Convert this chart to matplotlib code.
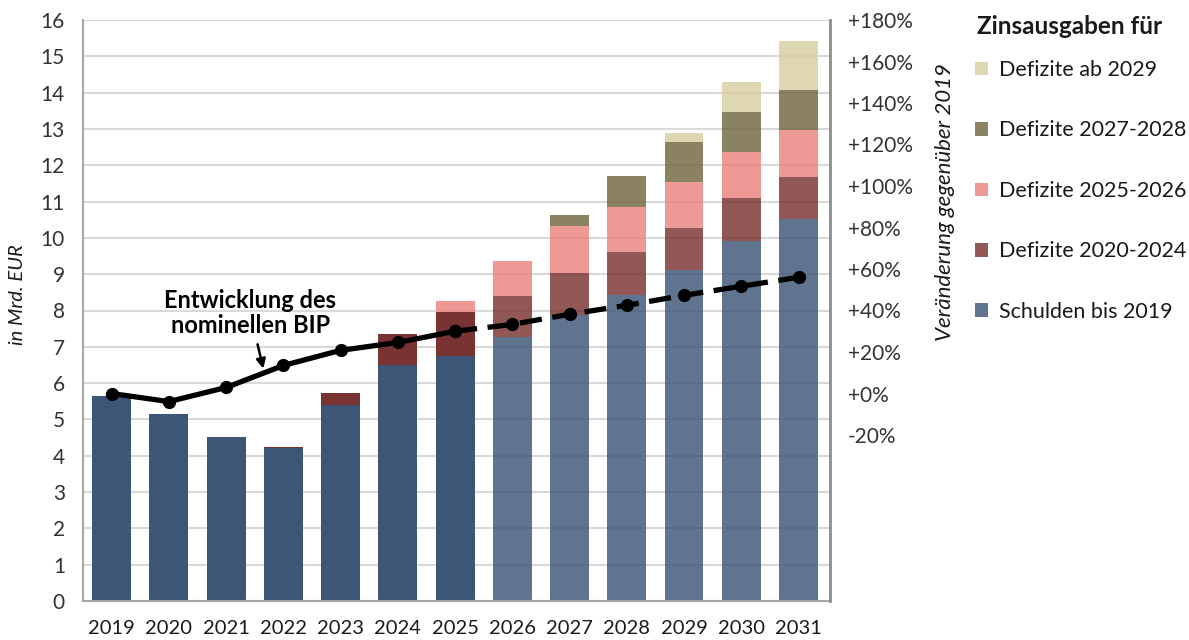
import numpy as np
import matplotlib.pyplot as plt
from matplotlib.patches import Patch

plt.rcParams['font.family'] = ['Lato', 'DejaVu Sans']

# data
years = ['2019', '2020', '2021', '2022', '2023', '2024', '2025',
         '2026', '2027', '2028', '2029', '2030', '2031']
schulden_2019 = [5.64, 5.14, 4.52, 4.21, 5.39, 6.49, 6.76, 7.27, 7.88, 8.42, 9.12, 9.92, 10.52]
def_2020_2024 = [0, 0, 0, 0.04, 0.34, 0.86, 1.19, 1.13, 1.15, 1.20, 1.14, 1.17, 1.17]
def_2025_2026 = [0, 0, 0, 0, 0, 0, 0.30, 0.96, 1.31, 1.24, 1.29, 1.28, 1.28]
def_2027_2028 = [0, 0, 0, 0, 0, 0, 0, 0, 0.28, 0.84, 1.10, 1.10, 1.10]
def_ab_2029 = [0, 0, 0, 0, 0, 0, 0, 0, 0, 0, 0.25, 0.81, 1.34]
bip_change = [0, -3.9, 2.9, 13.5, 20.8, 24.6, 30.0, 33.3, 38.2, 42.5, 47.3, 51.7, 56.0]
last_actual = 6  # 2025: solid line up to here, bars opaque

series = [
    ('Schulden bis 2019', schulden_2019, '#3d5678'),
    ('Defizite 2020-2024', def_2020_2024, '#7a3333'),
    ('Defizite 2025-2026', def_2025_2026, '#ea847f'),
    ('Defizite 2027-2028', def_2027_2028, '#716740'),
    ('Defizite ab 2029', def_ab_2029, '#d9cfa1'),
]
fade = 0.82

fig = plt.figure(figsize=(11.89, 6.4), dpi=100)
ax = fig.add_axes([83 / 1189, 1 - 601 / 640, (830 - 83) / 1189, (601 - 20) / 640])

x = np.arange(len(years))
bottom = np.zeros(len(years))
handles = []
for i, (name, vals, col) in enumerate(series):
    vals = np.array(vals)
    for j in range(len(years)):
        if vals[j] <= 0:
            continue
        a = 1.0 if (j <= last_actual and i < 2) else fade
        ax.bar(x[j], vals[j], bottom=bottom[j], width=0.68, color=col, alpha=a,
               linewidth=0, zorder=2)
    bottom += vals
    handles.append(Patch(facecolor=col, alpha=fade, label=name))

ax.set_xlim(-0.5, 12.55)
ax.set_ylim(0, 16)
ax.set_yticks(range(0, 17))
ax.set_xticks(x)
ax.set_xticklabels(years)
ax.grid(axis='y', color='#d9d9d9', lw=1.5, zorder=0)
ax.set_axisbelow(True)
ax.tick_params(axis='y', length=0, pad=13, labelsize=15, colors='#333333')
ax.tick_params(axis='x', length=0, pad=14, labelsize=14.5, colors='#1a1a1a')
for s in ['top', 'right']:
    ax.spines[s].set_visible(False)
ax.spines['left'].set_color('#a6a6a6')
ax.spines['bottom'].set_color('#a6a6a6')
ax.spines['left'].set_linewidth(1.5)
ax.spines['bottom'].set_linewidth(1.5)

fig.text(18 / 1189, 1 - 295 / 640, 'in Mrd. EUR', rotation=90, ha='center', va='center',
         fontsize=14.5, style='italic', color='#1a1a1a')

# right axis: change vs 2019
ax2 = ax.twinx()
ax2.set_ylim(-100, 180)
ax2.set_yticks(range(-20, 181, 20))
ax2.set_yticklabels([f'{v:+d}%' if v >= 0 else f'{v}%' for v in range(-20, 181, 20)])
ax2.tick_params(axis='y', length=0, pad=13, labelsize=15, colors='#333333')
for s in ['top', 'left', 'bottom']:
    ax2.spines[s].set_visible(False)
ax2.spines['right'].set_color('#8c8c8c')
ax2.spines['right'].set_linewidth(2)

ax2.plot(x[:last_actual + 1], bip_change[:last_actual + 1], color='black', lw=3.8,
         marker='o', ms=8.5, zorder=5)
ax2.plot(x[last_actual:], bip_change[last_actual:], color='black', lw=3.8,
         ls=(0, (4.2, 2.0)), marker='o', ms=8.5, zorder=5)

fig.text(945 / 1189, 1 - 202 / 640, 'Veränderung gegenüber 2019', rotation=90,
         ha='center', va='center', fontsize=16, style='italic', color='#1a1a1a')

ax2.annotate('Entwicklung des\nnominellen BIP', xy=(x[2] + 0.65, 12),
             xytext=(x[2] + 0.42, 27), ha='center', va='bottom', fontsize=17,
             fontweight='bold', linespacing=1.15,
             arrowprops=dict(arrowstyle='-|>', color='black', lw=1.8,
                             shrinkA=3, shrinkB=0, mutation_scale=14))

fig.text(977 / 1189, 1 - 27 / 640, 'Zinsausgaben für', ha='left', va='center',
         fontsize=17.5, fontweight='bold', color='#1a1a1a')
leg = fig.legend(handles=handles[::-1], loc='upper left',
                 bbox_to_anchor=(975 / 1189, 1 - 60 / 640), frameon=False,
                 fontsize=15.5, handlelength=0.6, handleheight=0.6, handletextpad=0.5,
                 labelspacing=1.88, borderpad=0, borderaxespad=0)
for t in leg.get_texts():
    t.set_color('#1a1a1a')

fig.savefig('out.png', dpi=100)
